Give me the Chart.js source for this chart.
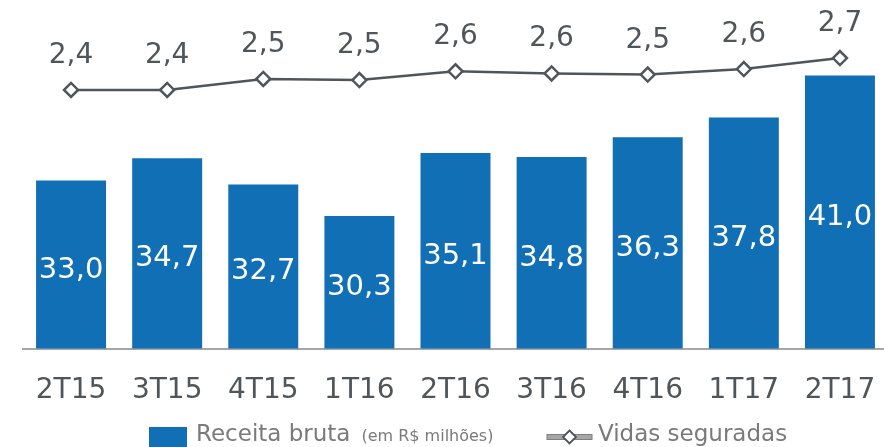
<!DOCTYPE html>
<html>
<head>
  <meta charset="UTF-8">
  <title>Receita bruta e vidas seguradas</title>
  <script src="https://cdn.jsdelivr.net/npm/chart.js@4/dist/chart.umd.min.js"></script>
  <style>
    body { margin: 0; overflow: hidden; background: #fff; font-family: "DejaVu Sans", Verdana, sans-serif; }
    #wrap { position: relative; width: 888px; height: 447px; }
    .leg { position: absolute; color: #7a7a7a; font-size: 23px; line-height: 23px; white-space: nowrap; }
  </style>
  <script>
    // dados
    var trimestres = ["2T15", "3T15", "4T15", "1T16", "2T16", "3T16", "4T16", "1T17", "2T17"];
    var receitaBruta = [33.0, 34.7, 32.7, 30.3, 35.1, 34.8, 36.3, 37.8, 41.0];   // R$ milhões
    var vidasSeguradas = [2.40, 2.40, 2.50, 2.49, 2.57, 2.55, 2.54, 2.59, 2.69]; // milhões (rótulo com 1 casa)

    var AZUL = "#116fb5";
    var CINZA = "#50555a";

    function fmt(v) {
      return (Math.round(v * 10) / 10).toFixed(1).replace(".", ",");
    }

    // rótulos de valor nas barras e acima da linha
    var rotulos = {
      id: "rotulos",
      afterDatasetsDraw: function(chart) {
        var ctx = chart.ctx;
        var fundo = chart.chartArea.bottom;
        ctx.save();
        ctx.textAlign = "center";
        ctx.textBaseline = "alphabetic";
        chart.getDatasetMeta(0).data.forEach(function(bar, i) {
          var mid = (bar.y + fundo) / 2;
          ctx.font = "29px 'DejaVu Sans'";
          ctx.fillStyle = "#ffffff";
          ctx.fillText(fmt(receitaBruta[i]), bar.x, mid + 13);
        });
        chart.getDatasetMeta(1).data.forEach(function(pt, i) {
          ctx.font = "28px 'DejaVu Sans'";
          ctx.fillStyle = CINZA;
          ctx.fillText(fmt(vidasSeguradas[i]), pt.x, pt.y - 27);
        });
        ctx.restore();
      }
    };

    function init() {
      var ctx = document.getElementById("grafico");
      new Chart(ctx, {
        type: "bar",
        data: {
          labels: trimestres,
          datasets: [{
            label: "Receita bruta",
            data: receitaBruta,
            backgroundColor: AZUL,
            borderWidth: 0,
            barPercentage: 0.728,
            categoryPercentage: 1,
            yAxisID: "y",
            order: 2
          }, {
            type: "line",
            label: "Vidas seguradas",
            data: vidasSeguradas,
            borderColor: CINZA,
            borderWidth: 2.5,
            pointStyle: "rectRot",
            pointRadius: 7,
            pointBorderWidth: 2.5,
            pointBackgroundColor: "#ffffff",
            pointBorderColor: CINZA,
            yAxisID: "y2",
            order: 1
          }]
        },
        options: {
          responsive: false,
          animation: false,
          layout: { autoPadding: false, padding: { left: 23, top: 10, right: 0, bottom: 0 } },
          plugins: {
            legend: { display: false },
            tooltip: { enabled: false }
          },
          scales: {
            x: {
              grid: { display: false, drawTicks: true, tickLength: 25 },
              border: { display: true, color: "#a6a6a6", width: 2 },
              ticks: {
                color: CINZA,
                font: { family: "DejaVu Sans", size: 28 },
                padding: 0,
                maxRotation: 0
              },
              afterFit: function(scale) { scale.height = 98.5; }
            },
            y: { display: false, min: 20.2, max: 46 },
            y2: { display: false, min: 0.05, max: 3.127 }
          }
        },
        plugins: [rotulos]
      });
    }
  </script>
</head>
<body onload="init()">
<div id="wrap">
  <canvas id="grafico" width="888" height="447"></canvas>
  <div style="position:absolute; left:149px; top:427px; width:38px; height:20px; background:#116fb5;"></div>
  <div class="leg" style="left:196px; top:422px;">Receita bruta<span style="font-size:16px; margin-left:11px;">(em R$ milhões)</span></div>
  <svg style="position:absolute; left:546px; top:429px;" width="47" height="16">
    <rect x="1" y="5.5" width="45" height="5" fill="#a6a6a6" stroke="#7f7f7f" stroke-width="1"/>
    <path d="M23.5 1.5 L30 8 L23.5 14.5 L17 8 Z" fill="#ffffff" stroke="#4d5257" stroke-width="1.8"/>
  </svg>
  <div class="leg" style="left:598px; top:422px;">Vidas seguradas</div>
</div>
</body>
</html>
